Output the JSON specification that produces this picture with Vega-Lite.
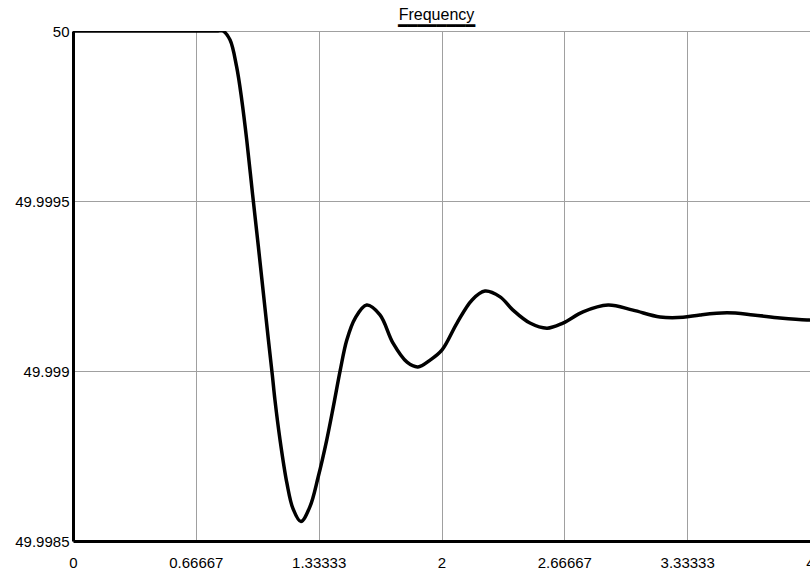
{
  "$schema": "https://vega.github.io/schema/vega-lite/v6.json",
  "autosize": {"type": "none"},
  "padding": {"left": 73, "top": 31, "right": 0, "bottom": 34},
  "width": 737,
  "height": 510,
  "background": "white",
  "title": {
    "text": "Frequency",
    "subtitle": "━━━━━━━━",
    "font": "Liberation Sans",
    "fontSize": 16,
    "fontWeight": "normal",
    "color": "black",
    "subtitleFont": "DejaVu Sans",
    "subtitleFontSize": 16,
    "subtitleColor": "black",
    "subtitlePadding": -5.5,
    "anchor": "middle",
    "dx": -5,
    "offset": -9.5
  },
  "data": {
    "values": [
      {"t": 0, "f": 50}, {"t": 0.4, "f": 50}, {"t": 0.78, "f": 50}, {"t": 0.814, "f": 50},
      {"t": 0.852, "f": 49.999974}, {"t": 0.888, "f": 49.999895}, {"t": 0.916, "f": 49.999797},
      {"t": 0.943, "f": 49.999679}, {"t": 0.975, "f": 49.999518}, {"t": 1.006, "f": 49.999366},
      {"t": 1.033, "f": 49.99923}, {"t": 1.06, "f": 49.999094}, {"t": 1.082, "f": 49.998987},
      {"t": 1.096, "f": 49.998915}, {"t": 1.123, "f": 49.9988}, {"t": 1.161, "f": 49.99867},
      {"t": 1.194, "f": 49.998595}, {"t": 1.237, "f": 49.998557}, {"t": 1.286, "f": 49.998601},
      {"t": 1.331, "f": 49.998689}, {"t": 1.377, "f": 49.998797}, {"t": 1.413, "f": 49.998895},
      {"t": 1.45, "f": 49.999001}, {"t": 1.486, "f": 49.999091}, {"t": 1.531, "f": 49.999155},
      {"t": 1.594, "f": 49.999194}, {"t": 1.666, "f": 49.999165}, {"t": 1.737, "f": 49.999082},
      {"t": 1.813, "f": 49.999026}, {"t": 1.872, "f": 49.999012}, {"t": 1.938, "f": 49.999032},
      {"t": 2.003, "f": 49.999062}, {"t": 2.084, "f": 49.999141}, {"t": 2.166, "f": 49.999209},
      {"t": 2.236, "f": 49.999235}, {"t": 2.318, "f": 49.999218}, {"t": 2.388, "f": 49.999179},
      {"t": 2.48, "f": 49.999141}, {"t": 2.573, "f": 49.999126}, {"t": 2.659, "f": 49.999141},
      {"t": 2.768, "f": 49.999174}, {"t": 2.904, "f": 49.999194}, {"t": 3.039, "f": 49.999179},
      {"t": 3.186, "f": 49.999159}, {"t": 3.311, "f": 49.999158}, {"t": 3.403, "f": 49.999165},
      {"t": 3.55, "f": 49.999171}, {"t": 3.691, "f": 49.999165}, {"t": 3.837, "f": 49.999156},
      {"t": 3.984, "f": 49.99915}, {"t": 4.0, "f": 49.99915}
    ]
  },
  "mark": {"type": "line", "color": "black", "strokeWidth": 3.5, "interpolate": "catmull-rom", "clip": true},
  "encoding": {
    "x": {
      "field": "t", "type": "quantitative",
      "scale": {"domain": [0, 4], "nice": false, "zero": false},
      "axis": {
        "title": null,
        "values": [0, 0.66667, 1.33333, 2, 2.66667, 3.33333, 4],
        "format": ".5~f",
        "ticks": false,
        "labelFont": "Liberation Sans",
        "labelFontSize": 15,
        "labelColor": "black",
        "labelPadding": 14,
        "labelFlush": false,
        "labelOverlap": false,
        "domainColor": "black",
        "domainWidth": 3,
        "gridColor": "#a0a0a0",
        "gridWidth": 1,
        "gridOpacity": 1
      }
    },
    "y": {
      "field": "f", "type": "quantitative",
      "scale": {"domain": [49.9985, 50], "nice": false, "zero": false},
      "axis": {
        "title": null,
        "values": [49.9985, 49.999, 49.9995, 50],
        "format": ".4~f",
        "ticks": false,
        "labelFont": "Liberation Sans",
        "labelFontSize": 15,
        "labelColor": "black",
        "labelPadding": 4,
        "labelFlush": false,
        "labelOverlap": false,
        "domainColor": "black",
        "domainWidth": 3,
        "gridColor": "#a0a0a0",
        "gridWidth": 1,
        "gridOpacity": 1
      }
    }
  },
  "config": {"view": {"stroke": null}}
}
